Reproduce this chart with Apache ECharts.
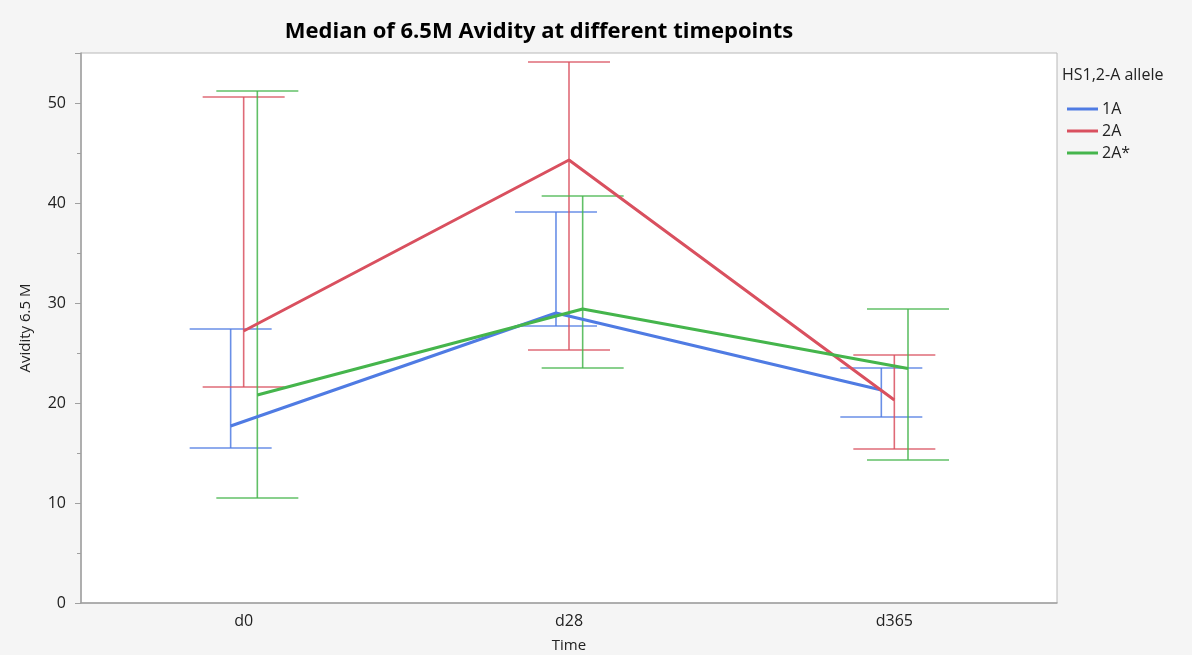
<!DOCTYPE html>
<html>
<head>
<meta charset="utf-8">
<script src="https://cdn.jsdelivr.net/npm/echarts@6/dist/echarts.min.js"></script>
<style>
html,body{margin:0;padding:0;background:#f5f5f5;}
#chart{width:1192px;height:655px;}
</style>
</head>
<body>
<div id="chart"></div>
<script>
const categories = ['d0', 'd28', 'd365'];
const seriesNames = ['1A', '2A', '2A*'];
const median1A = [17.7, 29.0, 21.3];
const low1A = [15.5, 27.7, 18.6];
const high1A = [27.4, 39.1, 23.5];
const median2A = [27.2, 44.3, 20.3];
const low2A = [21.6, 25.3, 15.4];
const high2A = [50.6, 54.1, 24.8];
const median2As = [20.8, 29.4, 23.45];
const low2As = [10.5, 23.5, 14.3];
const high2As = [51.2, 40.7, 29.4];
const yTicks = [0, 10, 20, 30, 40, 50];

const colors = ['#4f7be3', '#d9505f', '#45b54c'];
const offsets = [-0.04, 0, 0.042];
const medians = [median1A, median2A, median2As];
const lows = [low1A, low2A, low2As];
const highs = [high1A, high2A, high2As];
const FONT = 'Open Sans, Noto Sans, sans-serif';

const chart = echarts.init(document.getElementById('chart'), null, {renderer: 'canvas'});

const series = [];
seriesNames.forEach((name, s) => {
  series.push({
    name: name,
    type: 'custom',
    xAxisIndex: 1,
    z: 2,
    data: categories.map((c, i) => [i + offsets[s], lows[s][i], highs[s][i]]),
    encode: {x: 0, y: [1, 2]},
    renderItem: function (params, api) {
      const x = api.value(0);
      const lo = api.coord([x, api.value(1)]);
      const hi = api.coord([x, api.value(2)]);
      const hw = 41;
      const st = {stroke: colors[s], lineWidth: 1.6, opacity: 0.85};
      return {
        type: 'group',
        children: [
          {type: 'line', shape: {x1: lo[0], y1: lo[1], x2: hi[0], y2: hi[1]}, style: st},
          {type: 'line', shape: {x1: lo[0] - hw, y1: lo[1], x2: lo[0] + hw, y2: lo[1]}, style: st},
          {type: 'line', shape: {x1: hi[0] - hw, y1: hi[1], x2: hi[0] + hw, y2: hi[1]}, style: st}
        ]
      };
    }
  });
});
seriesNames.forEach((name, s) => {
  series.push({
    name: name,
    type: 'line',
    xAxisIndex: 1,
    z: 5,
    symbol: 'none',
    lineStyle: {color: colors[s], width: 3},
    itemStyle: {color: colors[s]},
    data: categories.map((c, i) => [i + offsets[s], medians[s][i]])
  });
});

const option = {
  backgroundColor: '#f5f5f5',
  animation: false,
  color: colors,
  title: {
    text: 'Median of 6.5M Avidity at different timepoints',
    left: 534,
    top: 16,
    textAlign: 'center',
    textStyle: {fontFamily: FONT, fontSize: 22, fontWeight: 'bold', color: '#000'}
  },
  graphic: [{
    type: 'text',
    left: 1062,
    top: 67,
    style: {text: 'HS1,2-A allele', font: '16px ' + FONT, fill: '#222'}
  }],
  legend: {
    data: seriesNames.map((n, s) => ({name: n, icon: 'rect'})),
    orient: 'vertical',
    left: 1067,
    top: 101,
    padding: 0,
    itemWidth: 31,
    itemHeight: 3,
    itemGap: 6,
    textStyle: {fontFamily: FONT, fontSize: 16, color: '#222', padding: [0, 0, 0, -1]},
    selectedMode: false
  },
  grid: {
    left: 81,
    right: 135,
    top: 53,
    bottom: 52,
    outerBoundsMode: 'none',
    containLabel: false,
    show: true,
    backgroundColor: '#ffffff',
    borderColor: '#b8b8b8',
    borderWidth: 1
  },
  xAxis: [{
    type: 'category',
    data: categories,
    boundaryGap: true,
    name: 'Time',
    nameLocation: 'middle',
    nameGap: 35,
    nameTextStyle: {fontFamily: FONT, fontSize: 15, color: '#222'},
    axisLine: {show: true, onZero: false, lineStyle: {color: '#a0a0a0', width: 1.5}},
    axisTick: {show: false},
    axisLabel: {fontFamily: FONT, fontSize: 16, color: '#222', margin: 10},
    splitLine: {show: false}
  }, {
    type: 'value',
    min: -0.5,
    max: 2.5,
    show: false,
    splitLine: {show: false}
  }],
  yAxis: {
    type: 'value',
    min: 0,
    max: 55,
    interval: 10,
    name: 'Avidity 6.5 M',
    nameLocation: 'middle',
    nameGap: 48,
    nameRotate: 90,
    nameTextStyle: {fontFamily: FONT, fontSize: 15, color: '#222'},
    axisLine: {show: true, onZero: false, lineStyle: {color: '#a0a0a0', width: 1.5}},
    axisTick: {show: true, length: 6, lineStyle: {color: '#a0a0a0'}},
    minorTick: {show: true, splitNumber: 2, length: 4, lineStyle: {color: '#a0a0a0'}},
    axisLabel: {
      fontFamily: FONT, fontSize: 16, color: '#222', margin: 15,
      formatter: function (v) { return yTicks.indexOf(v) >= 0 ? String(v) : ''; }
    },
    splitLine: {show: false}
  },
  series: series
};
chart.setOption(option);
</script>
</body>
</html>
